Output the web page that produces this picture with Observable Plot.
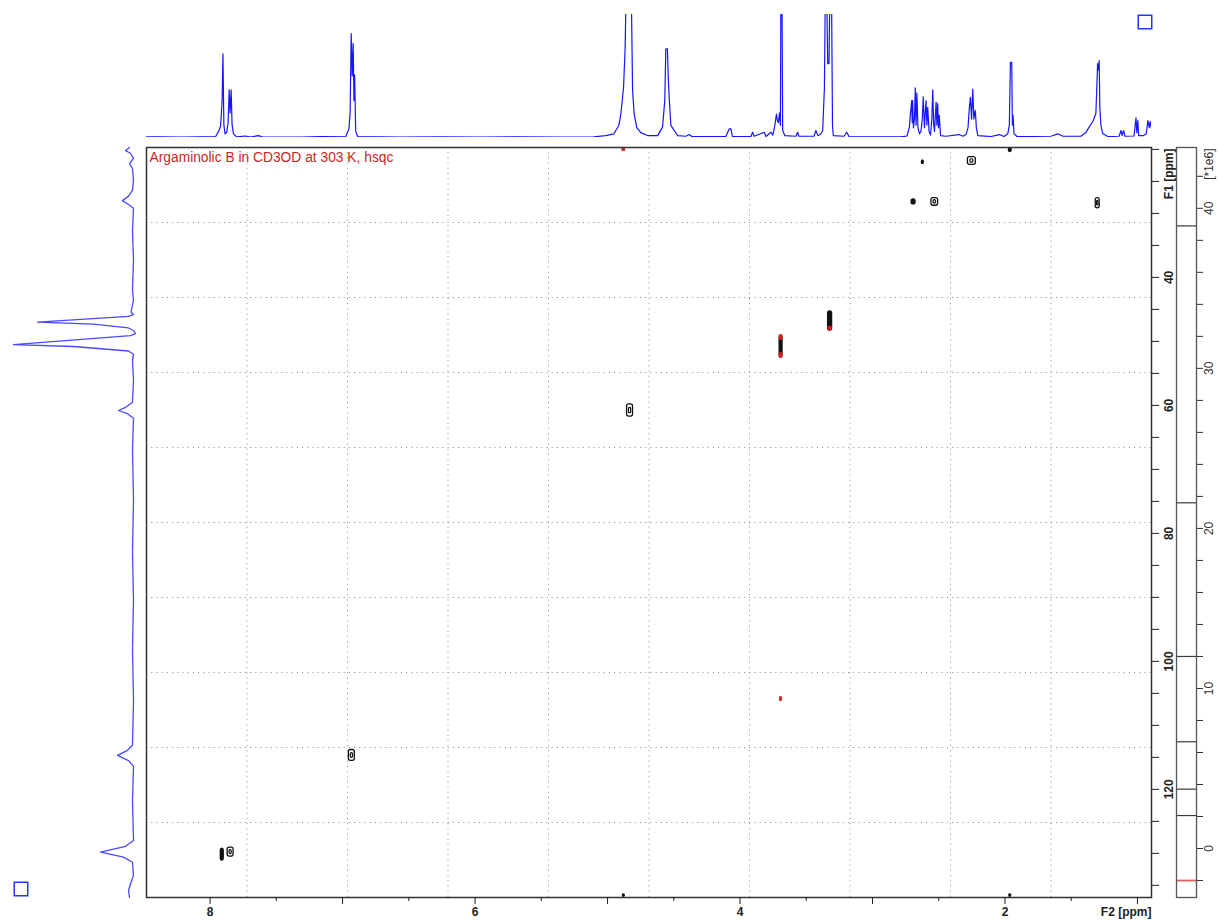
<!DOCTYPE html>
<html><head><meta charset="utf-8">
<script src="https://cdn.jsdelivr.net/npm/d3@7"></script>
<script src="https://cdn.jsdelivr.net/npm/@observablehq/plot@0.6"></script>
<style>
body{margin:0;background:#fff;}
#wrap{position:relative;width:1218px;height:921px;overflow:hidden;font-family:"Liberation Sans",Arial,sans-serif;}
#wrap svg{position:absolute;overflow:visible;}
</style></head><body><div id="wrap"></div>
<script>
// ---------- data ----------
const title = "Argaminolic B in CD3OD at 303 K, hsqc";
const F2_DOMAIN = [8.48, 0.894];   // 1H ppm, left -> right
const F1_DOMAIN = [19.7, 136.9];   // 13C ppm, top -> bottom
const CB_DOMAIN = [-3.06, 43.8];   // intensity *1e6
const f2Major = [1, 2, 3, 4, 5, 6, 7, 8];
const f2Minor = [1.5, 2.5, 3.5, 4.5, 5.5, 6.5, 7.5];
const f2Labels = [2, 4, 6, 8];
const f1Ticks = [20, 25, 30, 35, 40, 45, 50, 55, 60, 65, 70, 75, 80, 85, 90, 95, 100, 105, 110, 115, 120, 125, 130, 135];
const f1Labels = [40, 60, 80, 100, 120];
const cbTicks = [-2, 0, 2, 4, 6, 8, 10, 12, 14, 16, 18, 20, 22, 24, 26, 28, 30, 32, 34, 36, 38, 40, 42];
const cbLabels = [0, 10, 20, 30, 40];
const posLevels = [2.06, 3.71, 6.67, 12.0, 21.6, 38.9];
const negLevels = [-2.0];

// cross peaks: F2 (1H), F1 (13C), full widths in ppm, contour depth
const peakF2 = [7.908, 7.845, 6.930, 4.830, 3.690, 3.320, 2.620, 2.250, 1.960, 2.690, 2.530, 1.300, 4.877, 1.960];
const peakF1 = [130.2, 129.8, 114.7, 60.8, 50.8, 46.8, 22.0, 21.8, 20.1, 28.2, 28.2, 28.4, 136.6, 136.6];
const peakW  = [0.022, 0.045, 0.045, 0.045, 0.022, 0.030, 0.015, 0.060, 0.022, 0.030, 0.050, 0.030, 0.015, 0.015];
const peakH  = [1.9, 1.4, 1.7, 1.9, 3.4, 3.0, 0.6, 1.2, 0.6, 0.8, 1.2, 1.6, 0.4, 0.4];
const peakLv = [1, 2, 2, 2, 1, 1, 1, 2, 1, 1, 2, 2, 1, 1];
// negative (red) contours
const negF2 = [4.877, 3.690, 3.690, 3.320, 3.690];
const negF1 = [20.0, 49.4, 52.2, 48.0, 105.9];
const negW  = [0.022, 0.022, 0.022, 0.024, 0.015];
const negH  = [0.5, 0.7, 0.7, 0.6, 0.6];

// 1H projection (ppm, % of clip height)
const h1Spectrum = [[8.480,0.5],[8.374,0.5],[8.223,0.3],[8.072,0.5],[7.958,0.8],[7.936,5],[7.921,9],[7.909,30],[7.903,68],[7.896,10],[7.887,3],[7.875,4],[7.864,12],[7.856,38.7],[7.849,20],[7.841,38.7],[7.834,10],[7.823,3],[7.800,0.5],[7.732,1.2],[7.694,0.4],[7.634,1.5],[7.604,0.4],[7.317,0.4],[7.166,0.8],[6.977,0.5],[6.952,7],[6.943,20],[6.935,84.5],[6.927,50],[6.920,76.5],[6.914,30],[6.909,51],[6.901,5],[6.886,0.8],[6.561,0.4],[6.259,0.6],[5.957,0.4],[5.655,0.5],[5.353,0.4],[5.103,0.6],[5.013,1.5],[4.952,3],[4.914,10],[4.899,19.5],[4.879,41],[4.867,73],[4.862,105],[4.839,125],[4.819,105],[4.811,38],[4.799,19.5],[4.779,8],[4.749,4],[4.698,1.6],[4.622,1.5],[4.585,8.4],[4.568,30],[4.560,72],[4.548,72],[4.542,50],[4.535,32.7],[4.522,9.8],[4.471,1.6],[4.409,1.0],[4.384,2.4],[4.363,0.8],[4.107,0.8],[4.082,7],[4.069,7],[4.057,0.8],[3.918,0.8],[3.905,4.3],[3.893,1],[3.817,4.3],[3.804,0.8],[3.767,4.3],[3.752,2],[3.737,10],[3.725,19],[3.718,14],[3.710,12],[3.702,20],[3.695,10],[3.691,130],[3.684,130],[3.678,5.7],[3.661,1.5],[3.578,1],[3.565,4.3],[3.556,1],[3.442,1],[3.427,5.7],[3.412,1.5],[3.389,3],[3.376,5.7],[3.363,40],[3.355,130],[3.347,130],[3.338,60],[3.328,60],[3.321,130],[3.310,130],[3.302,10],[3.296,1.6],[3.215,1],[3.195,4.3],[3.177,0.8],[2.936,0.5],[2.785,0.5],[2.740,1.2],[2.722,8],[2.713,20],[2.704,30],[2.700,12],[2.697,30],[2.691,8],[2.683,15],[2.677,40.4],[2.671,10],[2.665,36],[2.657,8],[2.645,3],[2.634,5],[2.624,15],[2.617,33],[2.608,8],[2.596,30],[2.589,10],[2.583,24.6],[2.573,5],[2.562,2],[2.552,15],[2.545,38.8],[2.538,10],[2.532,5],[2.520,28.7],[2.514,10],[2.508,27.6],[2.502,8],[2.496,18],[2.486,1.5],[2.445,1],[2.349,2.4],[2.317,1],[2.294,2.4],[2.279,8],[2.269,24],[2.261,32.7],[2.252,15],[2.243,39.3],[2.235,15],[2.224,22],[2.216,8],[2.205,1.6],[2.105,0.8],[2.042,2.4],[2.007,0.8],[1.979,3],[1.967,10],[1.959,61],[1.949,61],[1.944,10],[1.939,18],[1.932,3],[1.909,0.8],[1.653,1],[1.601,3],[1.563,1],[1.427,1],[1.390,4],[1.365,8.4],[1.337,13],[1.314,19.5],[1.307,40],[1.301,60],[1.295,55],[1.289,62.6],[1.284,24.6],[1.276,10],[1.263,3.3],[1.224,0.8],[1.139,1],[1.124,5.7],[1.116,1.5],[1.105,5.7],[1.094,1],[1.026,1.2],[1.011,16],[1.005,4],[0.997,13.8],[0.991,1.5],[0.957,1.5],[0.934,3],[0.921,13.8],[0.911,8],[0.904,13],[0.896,7.9],[0.889,7]];

// 13C projection (ppm, intensity)
const c13Spectrum = [[19.7,4],[20.2,8],[20.6,3],[21.4,0],[22.2,4],[23.0,1],[24.8,0],[26.4,1],[27.3,5],[28.0,11],[28.6,5],[29.2,0],[32.7,1],[37.3,0],[42.0,1],[43.6,0],[45.4,2.5],[45.8,0],[46.1,5],[47.0,96],[47.3,40],[47.9,5],[48.3,0],[48.8,-2],[49.1,3],[50.5,120],[50.8,60],[51.5,5],[52.0,0],[53.0,1],[56.1,0],[59.5,1],[60.3,8],[60.8,15],[61.3,6],[62.0,0],[67.0,1],[74.8,0],[82.7,1],[90.5,0],[98.3,1],[106.1,0],[113.1,1],[113.9,6],[114.7,16],[115.5,5],[116.4,0],[121.7,1],[128.0,0],[128.9,8],[129.8,33],[130.6,10],[131.4,1],[133.4,0],[134.8,3],[135.8,5],[136.9,4]];

// ---------- drawing ----------
const wrap = document.getElementById("wrap");
const font = "'Liberation Sans', Arial, sans-serif";
const peaks = peakF2.map((f2, i) => ({f2, f1: peakF1[i], w: peakW[i], h: peakH[i], lv: peakLv[i]}));
const negs = negF2.map((f2, i) => ({f2, f1: negF1[i], w: negW[i], h: negH[i]}));
const gridF2 = d3.range(1, 10).map(k => F2_DOMAIN[0] + k * (F2_DOMAIN[1] - F2_DOMAIN[0]) / 10);
const gridF1 = d3.range(1, 10).map(k => F1_DOMAIN[0] + k * (F1_DOMAIN[1] - F1_DOMAIN[0]) / 10);
const xEnd = () => F2_DOMAIN[1];

const main = Plot.plot({
  width: 1218, height: 921,
  marginLeft: 146, marginRight: 67, marginTop: 147, marginBottom: 24,
  x: {domain: F2_DOMAIN, axis: null},
  y: {domain: F1_DOMAIN, reverse: true, axis: null},
  style: {fontFamily: font, fontSize: "12px", background: "transparent", color: "#222"},
  marks: [
    Plot.ruleX(gridF2, {stroke: "#9a9a9a", strokeDasharray: "1.2,4"}),
    Plot.ruleY(gridF1, {stroke: "#9a9a9a", strokeDasharray: "1.2,4"}),
    Plot.rect(peaks, {x1: d => d.f2 + d.w / 2, x2: d => d.f2 - d.w / 2, y1: d => d.f1 - d.h / 2, y2: d => d.f1 + d.h / 2,
      fill: d => d.lv === 1 ? "#111" : "white", stroke: "#111", strokeWidth: 1.3, rx: 2}),
    Plot.rect(peaks.filter(d => d.lv >= 2), {x1: d => d.f2 + d.w * 0.18, x2: d => d.f2 - d.w * 0.18, y1: d => d.f1 - d.h * 0.22, y2: d => d.f1 + d.h * 0.22,
      fill: "white", stroke: "#111", strokeWidth: 1.2, rx: 1}),
    Plot.rect(negs, {x1: d => d.f2 + d.w / 2, x2: d => d.f2 - d.w / 2, y1: d => d.f1 - d.h / 2, y2: d => d.f1 + d.h / 2,
      fill: "#d42020", stroke: "#d42020", strokeWidth: 0.8}),
    Plot.frame({stroke: "#333", strokeWidth: 1.5}),
    Plot.axisX(f2Major, {anchor: "bottom", tickSize: 7, tickPadding: 3, tickFormat: d => f2Labels.includes(d) ? String(d) : "", fontWeight: "bold", fontSize: 12}),
    Plot.axisX(f2Minor, {anchor: "bottom", tickSize: 4, tickFormat: () => ""}),
    Plot.axisY(f1Ticks, {anchor: "right", tickSize: 7, tickFormat: () => ""}),
    Plot.text(f1Labels, {x: xEnd, y: d => d, text: d => String(d), dx: 18, rotate: -90, textAnchor: "middle", lineAnchor: "middle", fontWeight: "bold", fontSize: 12, fill: "#222"}),
    Plot.text(["F1 [ppm]"], {x: xEnd, y: () => F1_DOMAIN[0], text: d => d, dx: 18, dy: 1, rotate: -90, textAnchor: "end", lineAnchor: "middle", fontWeight: "bold", fontSize: 12, fill: "#222"}),
    Plot.text(["F2 [ppm]"], {x: xEnd, y: () => F1_DOMAIN[1], text: d => d, dy: 15, textAnchor: "end", lineAnchor: "middle", fontWeight: "bold", fontSize: 12, fill: "#222"}),
    Plot.text([title], {frameAnchor: "top-left", text: d => d, dx: 3, dy: 5, textAnchor: "start", lineAnchor: "top", fill: "#cc1f1f", fontSize: 13.8})
  ]
});
main.style.left = "0px"; main.style.top = "0px";

const topSpec = Plot.plot({
  width: 1218, height: 147,
  marginLeft: 146, marginRight: 67, marginTop: 14, marginBottom: 10,
  x: {domain: F2_DOMAIN, axis: null},
  y: {domain: [0, 100], axis: null},
  style: {background: "transparent"},
  marks: [
    Plot.line(h1Spectrum, {x: d => d[0], y: d => d[1], stroke: "#1515ff", strokeWidth: 1.2, clip: true})
  ]
});
topSpec.style.left = "0px"; topSpec.style.top = "0px";

const leftSpec = Plot.plot({
  width: 146, height: 921,
  marginLeft: 13, marginRight: 13, marginTop: 147, marginBottom: 24,
  x: {domain: [0, 120], reverse: true, axis: null},
  y: {domain: F1_DOMAIN, reverse: true, axis: null},
  style: {background: "transparent"},
  marks: [
    Plot.line(c13Spectrum, {x: d => d[1], y: d => d[0], stroke: "#4a4aff", strokeWidth: 1.3})
  ]
});
leftSpec.style.left = "0px"; leftSpec.style.top = "0px";

const cbar = Plot.plot({
  width: 42, height: 921,
  marginLeft: 0, marginRight: 22, marginTop: 147, marginBottom: 24,
  x: {domain: [0, 1], axis: null},
  y: {domain: CB_DOMAIN, axis: null},
  style: {fontFamily: font, fontSize: "12px", background: "transparent", color: "#333"},
  marks: [
    Plot.ruleY(posLevels, {stroke: "#3a3a3a", strokeWidth: 1.2}),
    Plot.ruleY(negLevels, {stroke: "#e06060", strokeWidth: 1.8}),
    Plot.frame({stroke: "#555", strokeWidth: 1.3}),
    Plot.axisY(cbTicks, {anchor: "right", tickSize: 6, tickFormat: () => ""}),
    Plot.text(cbLabels, {x: () => 1, y: d => d, text: d => String(d), dx: 13, rotate: -90, textAnchor: "middle", lineAnchor: "middle", fontSize: 12, fill: "#333"}),
    Plot.text(["[*1e6]"], {x: () => 1, y: () => CB_DOMAIN[1], text: d => d, dx: 13, dy: 1, rotate: -90, textAnchor: "end", lineAnchor: "middle", fontSize: 12, fill: "#333"})
  ]
});
cbar.style.left = "1176px"; cbar.style.top = "0px";

// small blue corner boxes (view toggles in the original software)
function cornerBox() {
  return Plot.plot({
    width: 15, height: 15, margin: 0,
    x: {domain: [0, 1], axis: null}, y: {domain: [0, 1], axis: null},
    style: {background: "transparent"},
    marks: [Plot.frame({stroke: "#2038ff", strokeWidth: 1.5, inset: 0.75})]
  });
}
const sq1 = cornerBox(); sq1.style.left = "1137px"; sq1.style.top = "14px";
const sq2 = cornerBox(); sq2.style.left = "13px"; sq2.style.top = "881px";

wrap.appendChild(topSpec);
wrap.appendChild(leftSpec);
wrap.appendChild(main);
wrap.appendChild(cbar);
wrap.appendChild(sq1);
wrap.appendChild(sq2);
</script></body></html>
